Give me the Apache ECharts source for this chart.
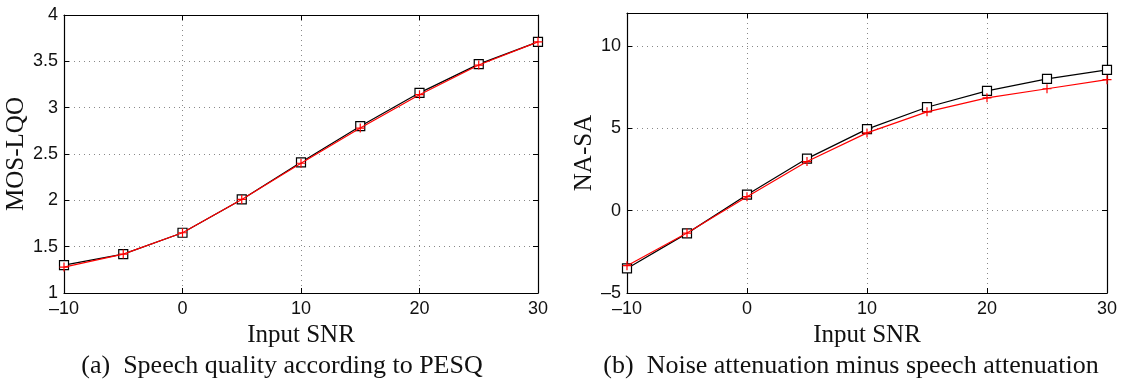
<!DOCTYPE html>
<html>
<head>
<meta charset="utf-8">
<script src="https://cdn.jsdelivr.net/npm/echarts@6/dist/echarts.min.js"></script>
<style>
  html, body { margin: 0; padding: 0; background: #fff; }
  #chart { width: 1122px; height: 383px; }
</style>
</head>
<body>
<div id="chart"></div>
<script>
// input SNR (dB)
const snr = [-10, -5, 0, 5, 10, 15, 20, 25, 30]

// (a) MOS-LQO
const mosBlack = [1.30, 1.42, 1.65, 2.01, 2.41, 2.80, 3.16, 3.47, 3.71]
const mosRed = [1.28, 1.42, 1.65, 2.01, 2.40, 2.78, 3.14, 3.46, 3.71]

// (b) NA-SA
const nasaBlack = [-3.51, -1.38, 0.97, 3.16, 4.95, 6.28, 7.27, 8.0, 8.55]
const nasaRed = [-3.34, -1.36, 0.85, 2.98, 4.72, 6.0, 6.85, 7.4, 7.95]

const xTicks = [-10, 0, 10, 20, 30]
const mosTicks = [1, 1.5, 2, 2.5, 3, 3.5, 4]
const nasaTicks = [-5, 0, 5, 10]

const sans = "Liberation Sans"
const serif = "Liberation Serif"
const plus = "path://M0,5L10,5M5,0L5,10"

const pair = (xs, ys) => xs.map((x, i) => [x, ys[i]])

const gridLine = { show: true, lineStyle: { color: "#888", type: [1, 4], width: 1 } }
const axisLine = { show: true, onZero: false, lineStyle: { color: "#000", width: 1.2 } }
const tick = { show: true, inside: true, length: 5, lineStyle: { color: "#000" } }

function xAxes(gi) {
  return [
    {
      type: "value", gridIndex: gi, min: -10, max: 30, interval: 10,
      name: "Input SNR", nameLocation: "middle", nameGap: 28,
      nameTextStyle: { fontFamily: serif, fontSize: 25, color: "#111" },
      axisLine, axisTick: tick, splitLine: gridLine,
      axisLabel: {
        fontFamily: sans, fontSize: 18, color: "#111", margin: 7,
        formatter: v => (xTicks.includes(v) ? String(v).replace("-", "\u2013") : "")
      }
    },
    {
      type: "value", gridIndex: gi, position: "top", min: -10, max: 30, interval: 10,
      axisLine, axisTick: tick, splitLine: { show: false }, axisLabel: { show: false }
    }
  ]
}

function yAxes(gi, min, max, interval, ticks, name, gap) {
  return [
    {
      type: "value", gridIndex: gi, min, max, interval,
      name, nameLocation: "middle", nameGap: gap,
      nameTextStyle: { fontFamily: serif, fontSize: 25, color: "#111" },
      axisLine, axisTick: tick, splitLine: gridLine,
      axisLabel: {
        fontFamily: sans, fontSize: 18, color: "#111", margin: 6,
        formatter: v => (ticks.includes(v) ? String(v).replace("-", "\u2013") : "")
      }
    },
    {
      type: "value", gridIndex: gi, position: "right", min, max, interval,
      axisLine, axisTick: tick, splitLine: { show: false }, axisLabel: { show: false }
    }
  ]
}

function lineSeries(xi, yi, data, color, symbol, size) {
  return {
    type: "line", xAxisIndex: xi, yAxisIndex: yi, data,
    symbol, symbolSize: size, showAllSymbol: true,
    lineStyle: { color, width: 1.2 },
    itemStyle: { color: symbol === plus ? "rgba(0,0,0,0)" : "#fff", borderColor: color, borderWidth: 1.2 },
    z: color === "#ff0000" ? 3 : 2
  }
}

const caption = { fontFamily: serif, fontSize: 26, fontWeight: "normal", color: "#111" }

const chart = echarts.init(document.getElementById("chart"), null, { renderer: "canvas" })
chart.setOption({
  animation: false,
  backgroundColor: "#fff",
  title: [
    { text: "(a)  Speech quality according to PESQ", left: 277, top: 348, textAlign: "center", textStyle: caption },
    { text: "(b)  Noise attenuation minus speech attenuation", left: 846, top: 348, textAlign: "center", textStyle: caption }
  ],
  grid: [
    { left: 64, right: 584, top: 15, bottom: 90 },
    { left: 627, right: 15, top: 13, bottom: 90 }
  ],
  xAxis: [...xAxes(0), ...xAxes(1)],
  yAxis: [
    ...yAxes(0, 1, 4, 0.5, mosTicks, "MOS-LQO", 27),
    ...yAxes(1, -5, 12, 5, nasaTicks, "NA-SA", 22)
  ],
  series: [
    lineSeries(0, 0, pair(snr, mosBlack), "#000", "rect", 9),
    lineSeries(0, 0, pair(snr, mosRed), "#ff0000", plus, 9),
    lineSeries(2, 2, pair(snr, nasaBlack), "#000", "rect", 9),
    lineSeries(2, 2, pair(snr, nasaRed), "#ff0000", plus, 9)
  ]
})
</script>
</body>
</html>
